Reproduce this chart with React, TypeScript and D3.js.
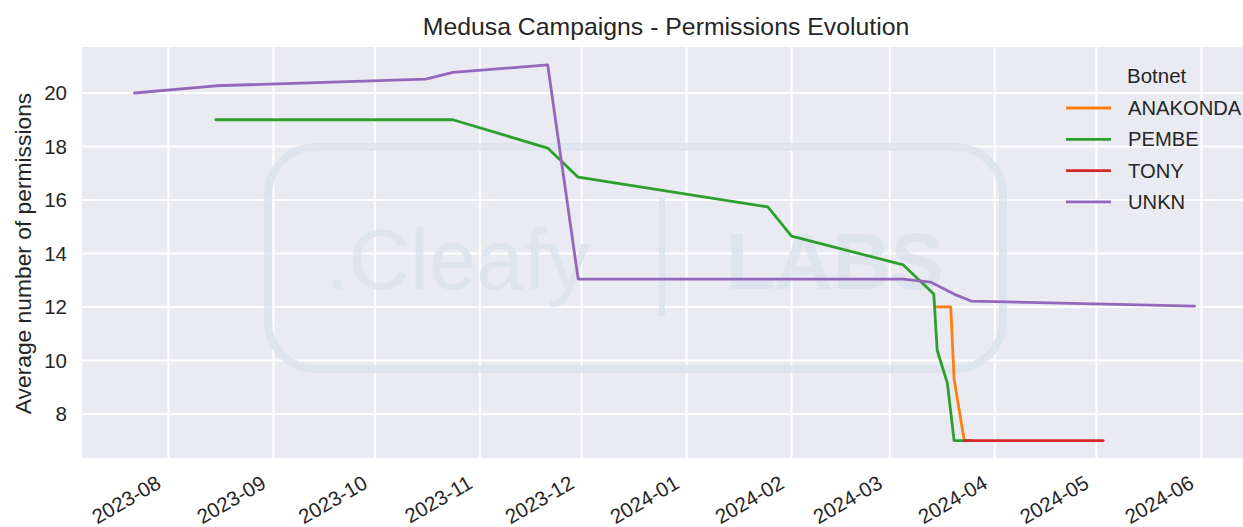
import * as d3 from 'd3'

// series (date -> average permissions)
const botnets = ['ANAKONDA', 'PEMBE', 'TONY', 'UNKN']
const palette = ['#ff7f0e', '#2ca02c', '#d62728', '#9467bd']

const anakondaDates = ['2024-03-15', '2024-03-19', '2024-03-20', '2024-03-23']
const anakondaValues = [12.0, 12.0, 9.3, 7.0]

const pembeDates = ['2023-08-15', '2023-10-24', '2023-11-21', '2023-11-30', '2024-01-25', '2024-02-01', '2024-03-05', '2024-03-14', '2024-03-15', '2024-03-18', '2024-03-20', '2024-03-25']
const pembeValues = [19.0, 19.0, 17.94, 16.85, 15.74, 14.65, 13.57, 12.48, 10.38, 9.15, 7.0, 7.0]

const tonyDates = ['2024-03-23', '2024-05-03']
const tonyValues = [7.0, 7.0]

const unknDates = ['2023-07-22', '2023-08-15', '2023-10-16', '2023-10-24', '2023-11-21', '2023-11-30', '2024-03-05', '2024-03-13', '2024-03-20', '2024-03-25', '2024-05-30']
const unknValues = [20.0, 20.27, 20.52, 20.77, 21.05, 13.04, 13.04, 12.93, 12.48, 12.22, 12.03]

const seriesDates = [anakondaDates, pembeDates, tonyDates, unknDates]
const seriesValues = [anakondaValues, pembeValues, tonyValues, unknValues]

const W = 1243
const H = 527
const font = '"Liberation Sans", Arial, sans-serif'
const ink = '#262626'

const parse = d3.timeParse('%Y-%m-%d')
const fmt = d3.timeFormat('%Y-%m')

export default function App() {
  const left = 82
  const top = 47
  const bottom = 458

  const x = d3.scaleTime()
    .domain([new Date(2023, 6, 6, 12), new Date(2024, 5, 13)])
    .range([left, 1242])
  const y = d3.scaleLinear().domain([6.35, 21.72]).range([bottom, top])

  const xTicks = x.ticks(d3.timeMonth.every(1) as any)
  const yTicks = y.ticks(8)

  const line = d3.line<[Date, number]>()
    .x(d => x(d[0]))
    .y(d => y(d[1]))

  const series = botnets.map((name, i) => ({
    name,
    color: palette[i],
    points: seriesDates[i].map((d, j) => [parse(d) as Date, seriesValues[i][j]] as [Date, number]),
  }))

  const wm = '#dce4ee'

  return (
    <svg width={W} height={H} style={{ position: 'absolute', left: 0, top: 0, background: '#fff' }} fontFamily={font}>
      <rect x={left} y={top} width={W - left} height={bottom - top} fill="#eaeaf2" />

      {/* grid */}
      {yTicks.map(t => (
        <line key={'gy' + t} x1={left} x2={W} y1={y(t)} y2={y(t)} stroke="#fff" strokeWidth={2} />
      ))}
      {xTicks.map(t => (
        <line key={'gx' + t.getTime()} x1={x(t)} x2={x(t)} y1={top} y2={bottom} stroke="#fff" strokeWidth={2} />
      ))}

      {/* faint watermark */}
      <g opacity={0.85}>
        <rect x={268} y={147} width={735} height={222} rx={48} fill="none" stroke={wm} strokeWidth={8} />
        <text x={325} y={289} fontSize={85} fill={wm}>.Cleafy</text>
        <line x1={662} x2={662} y1={198} y2={316} stroke={wm} strokeWidth={6} />
        <text x={726} y={289} fontSize={80} fontWeight={700} fill={wm}>LABS</text>
      </g>

      {series.map(s => (
        <path key={s.name} d={line(s.points) || ''} fill="none" stroke={s.color} strokeWidth={2.8} strokeLinejoin="round" strokeLinecap="round" />
      ))}

      {/* y axis */}
      {yTicks.map(t => (
        <text key={'yl' + t} x={67} y={y(t)} dominantBaseline="central" textAnchor="end" fontSize={20.5} fill={ink}>{t}</text>
      ))}
      <text transform={`translate(23,${(top + bottom) / 2 + 1}) rotate(-90)`} textAnchor="middle" dominantBaseline="central" fontSize={22.8} fill={ink}>
        Average number of permissions
      </text>

      {/* x axis */}
      {xTicks.map(t => (
        <text key={'xl' + t.getTime()} transform={`translate(${x(t) - 6},487) rotate(-30)`} textAnchor="end" fontSize={20.5} fill={ink}>
          {fmt(t)}
        </text>
      ))}

      <text x={666} y={35} textAnchor="middle" fontSize={24.8} fill={ink}>Medusa Campaigns - Permissions Evolution</text>

      {/* legend */}
      <text x={1127} y={75} dominantBaseline="central" fontSize={20.5} fill={ink}>Botnet</text>
      {series.map((s, i) => (
        <g key={'lg' + s.name} transform={`translate(0,${108 + i * 31.3})`}>
          <line x1={1066} x2={1111} y1={0} y2={0} stroke={s.color} strokeWidth={2.8} />
          <text x={1128} y={0} dominantBaseline="central" fontSize={20.2} fill={ink}>{s.name}</text>
        </g>
      ))}
    </svg>
  )
}
